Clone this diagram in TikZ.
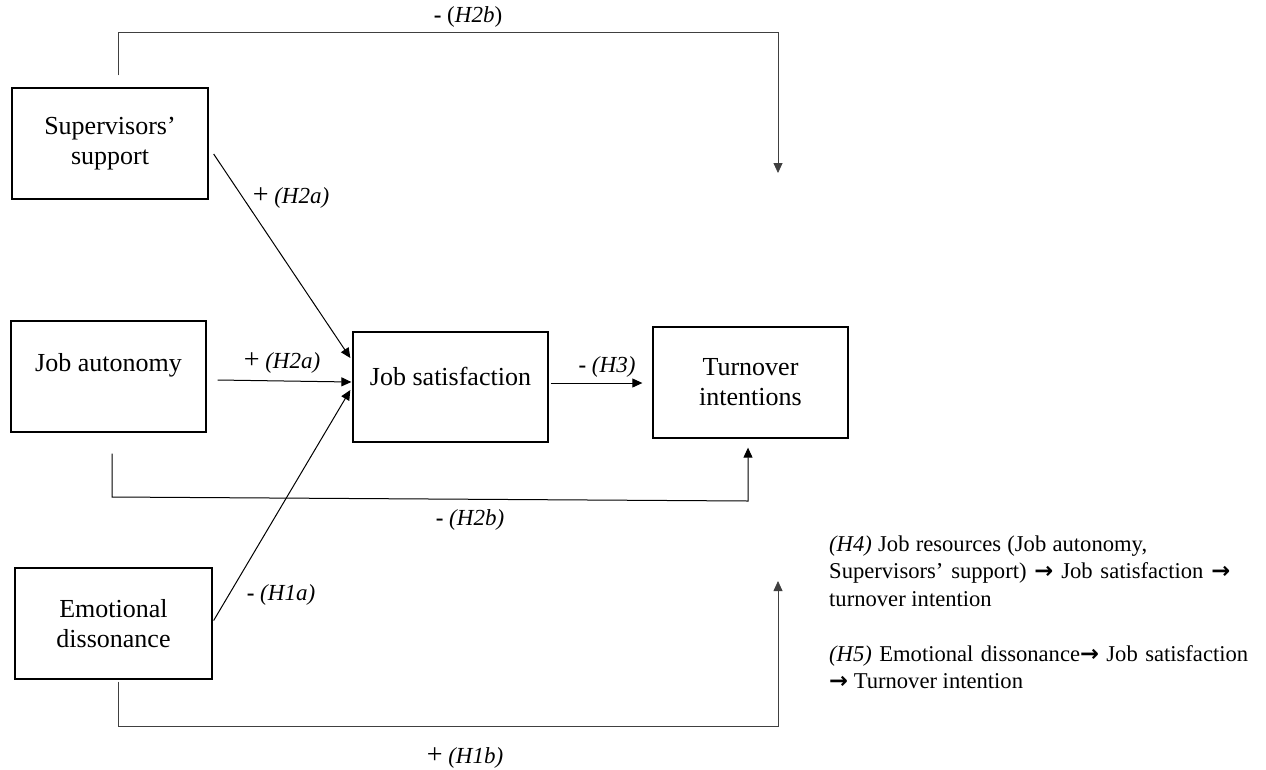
\documentclass[tikz,border=0pt]{standalone}
\usepackage{fontspec}
\setmainfont{Liberation Serif}
\newfontfamily\arrowfont{DejaVu Sans}
\usetikzlibrary{arrows.meta}
\newcommand{\rarr}{{\arrowfont\bfseries →}}
\begin{document}
\begin{tikzpicture}[x=1pt,y=-1pt,
  box/.style={draw, line width=1.3pt, minimum width=195pt, minimum height=111pt, inner sep=0pt, align=center, font=\fontsize{26}{30}\selectfont},
  conn/.style={line width=1pt, -{Triangle[length=10pt,width=9pt]}},
  greyconn/.style={line width=0.8pt, draw=black!75, -{Triangle[length=10pt,width=9pt]}},
  lab/.style={font=\fontsize{23}{26}\selectfont, inner sep=0pt},
  note/.style={font=\fontsize{22.6}{27}\selectfont, inner sep=0pt, anchor=base west}]
\useasboundingbox (0,0) rectangle (1266,769);

% boxes
\node[box, minimum width=196pt] (ss) at (110,143.5) {Supervisors'\\support};
\node[box] (ja) at (108.5,376.5) {\raisebox{11pt}[\height][\depth]{Job autonomy}};
\node[box, minimum width=197pt] (ed) at (113.5,623.5) {Emotional\\dissonance};
\node[box, minimum height=110pt] (js) at (450.5,387) {\raisebox{11pt}[\height][\depth]{Job satisfaction}};
\node[box] (ti) at (750.5,382.5) {Turnover\\intentions};

% free ends
\coordinate (topend) at (778,173);
\coordinate (edend) at (778,581);

% connectors
\draw[conn] ([shift={(5,10.5)}]ss.east) -- ([shift={(-2,-29)}]js.west);
\draw[conn] ([shift={(11,3.5)}]ja.east) -- ([shift={(-1,-5)}]js.west);
\draw[conn] ([shift={(1,-3)}]ed.east) -- ([shift={(-2,3)}]js.west);
\draw[conn] ([shift={(2,-4)}]js.east) -- ([shift={(-10,0.5)}]ti.west);

\draw[greyconn] ([shift={(8,-12)}]ss.north) -- (118,32) -- (778,32) -- (topend);
\draw[conn] ([shift={(3.5,21)}]ja.south) -- (112,497) -- (748,501) -- ([shift={(-2.5,9)}]ti.south);
\draw[greyconn] ([shift={(4.5,2)}]ed.south) -- (118,726) -- (778,726) -- (edend);

% labels
\node[lab] (l1) at (468,17) {{\bfseries -} (\textit{H2b})};
\node[lab] (l2) at (291,198) {{\fontsize{28}{28}\selectfont +} \textit{(H2a)}};
\node[lab] (l3) at (282,363) {{\fontsize{28}{28}\selectfont +} \textit{(H2a)}};
\node[lab] (l4) at (607,367) {{\bfseries -} \textit{(H3)}};
\node[lab] (l5) at (470,520) {{\bfseries -} \textit{(H2b)}};
\node[lab] (l6) at (281,595) {{\bfseries -} \textit{(H1a)}};
\node[lab] (l7) at (465,758) {{\fontsize{28}{28}\selectfont +} \textit{(H1b)}};

% hypotheses note
\node[note] (h4a) at (829,551) {\makebox[318pt][s]{\textit{(H4)} Job resources (Job autonomy,}};
\node[note] (h4b) at (829,578) {\makebox[401pt][s]{Supervisors' support) \rarr{} Job satisfaction \rarr}};
\node[note] (h4c) at (829,606) {turnover intention};
\node[note] (h5a) at (829,661) {\makebox[419pt][s]{\textit{(H5)} Emotional dissonance\rarr{} Job satisfaction}};
\node[note] (h5b) at (829,688) {\rarr{} Turnover intention};
\end{tikzpicture}
\end{document}
